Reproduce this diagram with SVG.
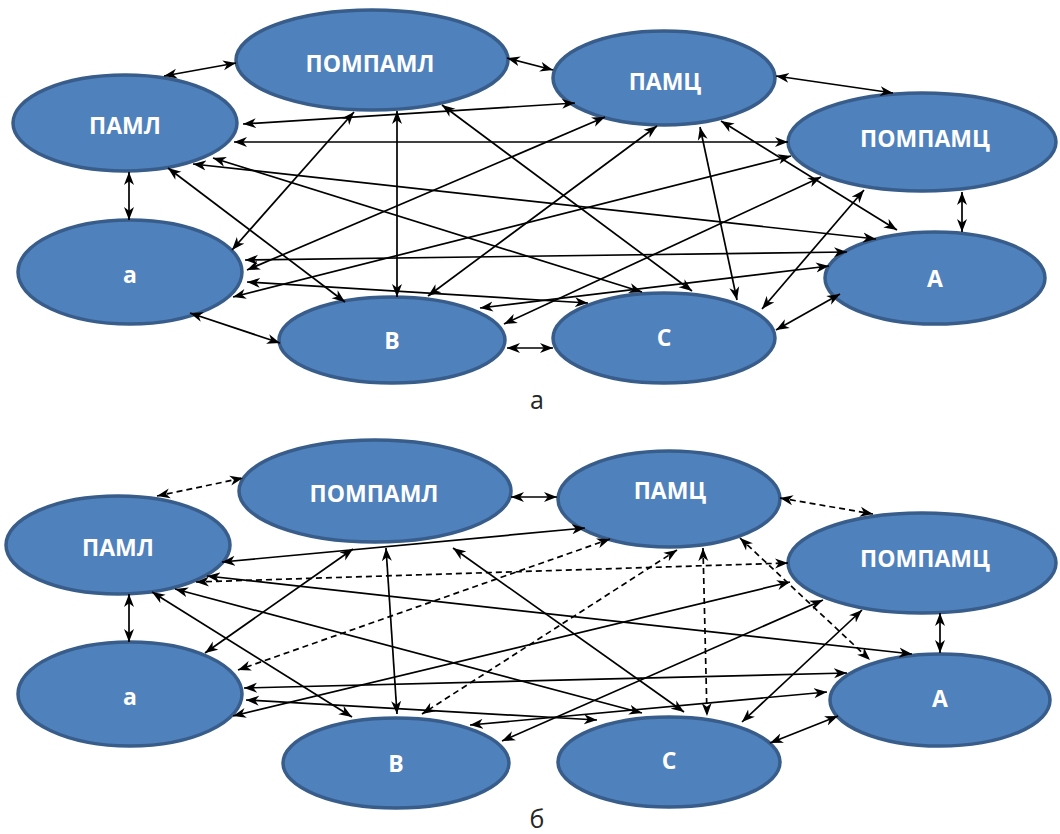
<svg xmlns="http://www.w3.org/2000/svg" width="1060" height="834" viewBox="0 0 1060 834">
<style>
.n{fill:#4F81BD;stroke:#385D8A;stroke-width:3.5}
.t{font-family:"Open Sans","Noto Sans",sans-serif;font-weight:bold;font-size:23px;fill:#fff;text-anchor:middle}
.c line{stroke:#000;stroke-width:1.7;marker-start:url(#ah);marker-end:url(#ah)}
.c line.d{stroke-dasharray:6 4}
.cap{font-family:"Open Sans","Noto Sans",sans-serif;font-size:25px;fill:#262626;text-anchor:middle}
</style>
<defs>
<marker id="ah" viewBox="0 0 13 11" refX="13" refY="5.5" markerWidth="13" markerHeight="11" markerUnits="userSpaceOnUse" orient="auto-start-reverse"><path d="M0,0.5 L13,5.5 L0,10.5 L3.8,5.5 z" fill="#000"/></marker>
</defs>
<rect width="1060" height="834" fill="#fff"/>
<!-- top diagram nodes -->
<g id="t-pompaml"><ellipse class="n" cx="372" cy="60" rx="136" ry="50"/><text class="t" x="370" y="72">ПОМПАМЛ</text></g>
<g id="t-paml"><ellipse class="n" cx="125" cy="123" rx="112" ry="48"/><text class="t" x="125" y="134">ПАМЛ</text></g>
<g id="t-pamc"><ellipse class="n" cx="664" cy="78" rx="111" ry="47"/><text class="t" x="665" y="90">ПАМЦ</text></g>
<g id="t-pompamc"><ellipse class="n" cx="922" cy="142" rx="134" ry="49"/><text class="t" x="925" y="147">ПОМПАМЦ</text></g>
<g id="t-a"><ellipse class="n" cx="130" cy="272" rx="112" ry="52"/><text class="t" x="130" y="283">а</text></g>
<g id="t-v"><ellipse class="n" cx="392" cy="340" rx="113" ry="43"/><text class="t" x="392" y="349">В</text></g>
<g id="t-s"><ellipse class="n" cx="664" cy="338" rx="111" ry="45"/><text class="t" x="664" y="346">С</text></g>
<g id="t-A"><ellipse class="n" cx="935" cy="278" rx="110" ry="46"/><text class="t" x="935" y="287">А</text></g>
<g id="top-connectors" class="c">
<line x1="164" y1="76" x2="236" y2="63"/>
<line x1="507" y1="58" x2="553" y2="70"/>
<line x1="776" y1="76" x2="893" y2="93"/>
<line x1="129" y1="172" x2="129" y2="220"/>
<line x1="962" y1="192" x2="962" y2="232"/>
<line x1="190" y1="313" x2="280" y2="343"/>
<line x1="507" y1="348" x2="553" y2="348"/>
<line x1="776" y1="330" x2="840" y2="294"/>
<line x1="243" y1="124" x2="575" y2="103"/>
<line x1="234" y1="142" x2="788" y2="142"/>
<line x1="213" y1="158" x2="642" y2="292"/>
<line x1="193" y1="164" x2="876" y2="239"/>
<line x1="168" y1="168" x2="345" y2="302"/>
<line x1="354" y1="112" x2="232" y2="250"/>
<line x1="397" y1="111" x2="397" y2="297"/>
<line x1="442" y1="105" x2="692" y2="291"/>
<line x1="605" y1="117" x2="247" y2="270"/>
<line x1="657" y1="126" x2="428" y2="296"/>
<line x1="700" y1="127" x2="737" y2="300"/>
<line x1="721" y1="121" x2="897" y2="230"/>
<line x1="791" y1="156" x2="233" y2="297"/>
<line x1="821" y1="177" x2="504" y2="324"/>
<line x1="864" y1="190" x2="762" y2="309"/>
<line x1="245" y1="260" x2="847" y2="252"/>
<line x1="247" y1="282" x2="588" y2="303"/>
<line x1="480" y1="308" x2="829" y2="266"/>
</g>
<text class="cap" x="537" y="409">а</text>
<!-- bottom diagram nodes -->
<g id="b-pompaml"><ellipse class="n" cx="375" cy="491" rx="136" ry="51"/><text class="t" x="374" y="502">ПОМПАМЛ</text></g>
<g id="b-paml"><ellipse class="n" cx="118" cy="545" rx="112" ry="49"/><text class="t" x="118" y="556">ПАМЛ</text></g>
<g id="b-pamc"><ellipse class="n" cx="669" cy="499" rx="111" ry="48"/><text class="t" x="670" y="499">ПАМЦ</text></g>
<g id="b-pompamc"><ellipse class="n" cx="922" cy="563" rx="134" ry="50"/><text class="t" x="925" y="567">ПОМПАМЦ</text></g>
<g id="b-a"><ellipse class="n" cx="130" cy="694" rx="112" ry="52"/><text class="t" x="130" y="705">а</text></g>
<g id="b-v"><ellipse class="n" cx="396" cy="763" rx="113" ry="45"/><text class="t" x="396" y="772">В</text></g>
<g id="b-s"><ellipse class="n" cx="669" cy="762" rx="111" ry="45"/><text class="t" x="669" y="769">С</text></g>
<g id="b-A"><ellipse class="n" cx="940" cy="700" rx="110" ry="46"/><text class="t" x="940" y="707">А</text></g>
<g id="bottom-connectors" class="c">
<line class="d" x1="157" y1="496" x2="243" y2="478"/>
<line x1="511" y1="497" x2="557" y2="497"/>
<line class="d" x1="780" y1="498" x2="873" y2="514"/>
<line x1="129" y1="594" x2="129" y2="642"/>
<line x1="940" y1="613" x2="940" y2="653"/>
<line x1="770" y1="743" x2="838" y2="716"/>
<line x1="222" y1="562" x2="585" y2="528"/>
<line class="d" x1="196" y1="582" x2="788" y2="563"/>
<line x1="207" y1="576" x2="912" y2="654"/>
<line x1="152" y1="592" x2="352" y2="717"/>
<line x1="175" y1="589" x2="642" y2="713"/>
<line x1="353" y1="549" x2="205" y2="653"/>
<line x1="386" y1="548" x2="397" y2="714"/>
<line x1="453" y1="548" x2="684" y2="712"/>
<line class="d" x1="610" y1="539" x2="238" y2="670"/>
<line class="d" x1="677" y1="550" x2="422" y2="714"/>
<line class="d" x1="703" y1="548" x2="707" y2="716"/>
<line class="d" x1="740" y1="538" x2="870" y2="660"/>
<line x1="790" y1="582" x2="233" y2="716"/>
<line x1="823" y1="600" x2="502" y2="741"/>
<line x1="862" y1="610" x2="742" y2="722"/>
<line x1="244" y1="688" x2="847" y2="673"/>
<line x1="246" y1="700" x2="597" y2="720"/>
<line x1="470" y1="725" x2="827" y2="692"/>
</g>
<text class="cap" x="537" y="828">б</text>
</svg>
